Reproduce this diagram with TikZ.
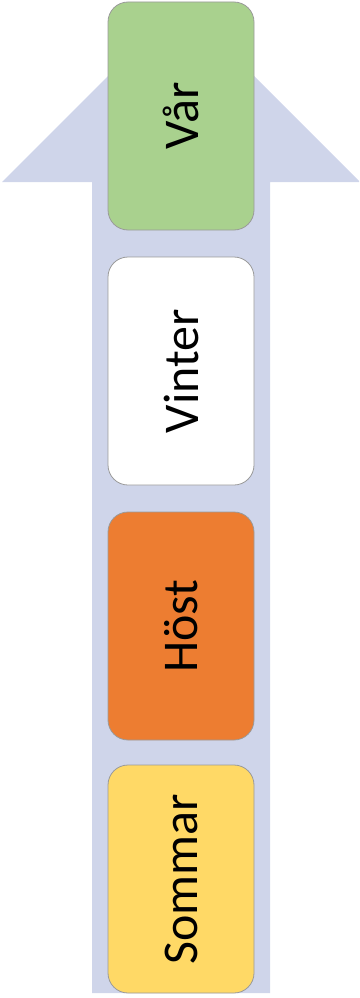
\documentclass[tikz,border=0pt]{standalone}
\usepackage{fontspec}
\setmainfont{Carlito}
\definecolor{arrowc}{HTML}{CFD5EA}
\definecolor{greenc}{HTML}{A9D18E}
\definecolor{orangec}{HTML}{ED7D31}
\definecolor{yellowc}{HTML}{FFD966}
\definecolor{borderc}{HTML}{9A9A9A}
\tikzset{
  season/.style={draw=borderc, line width=0.8pt, rounded corners=20pt,
    minimum width=146pt, minimum height=228pt, inner sep=0pt},
  label/.style={rotate=90, font=\fontsize{50}{60}\selectfont, text=black}
}
\begin{document}
\begin{tikzpicture}[x=1pt,y=-1pt]
\useasboundingbox (0,0) rectangle (359,998);
\fill[arrowc] (92,993) -- (92,182) -- (2,182) -- (181,3) -- (359,181) -- (359,182) -- (270,182) -- (270,993) -- cycle;
\node[season, fill=greenc] (var) at (181,116) {};
\node[season, fill=white] (vinter) at (181,371) {};
\node[season, fill=orangec] (host) at (181,626) {};
\node[season, fill=yellowc] (sommar) at (181,879) {};
\node[label] (tvar) at (var.center) {Vår};
\node[label] (tvinter) at (vinter.center) {Vinter};
\node[label] (thost) at (host.center) {Höst};
\node[label] (tsommar) at (sommar.center) {Sommar};
\end{tikzpicture}
\end{document}
